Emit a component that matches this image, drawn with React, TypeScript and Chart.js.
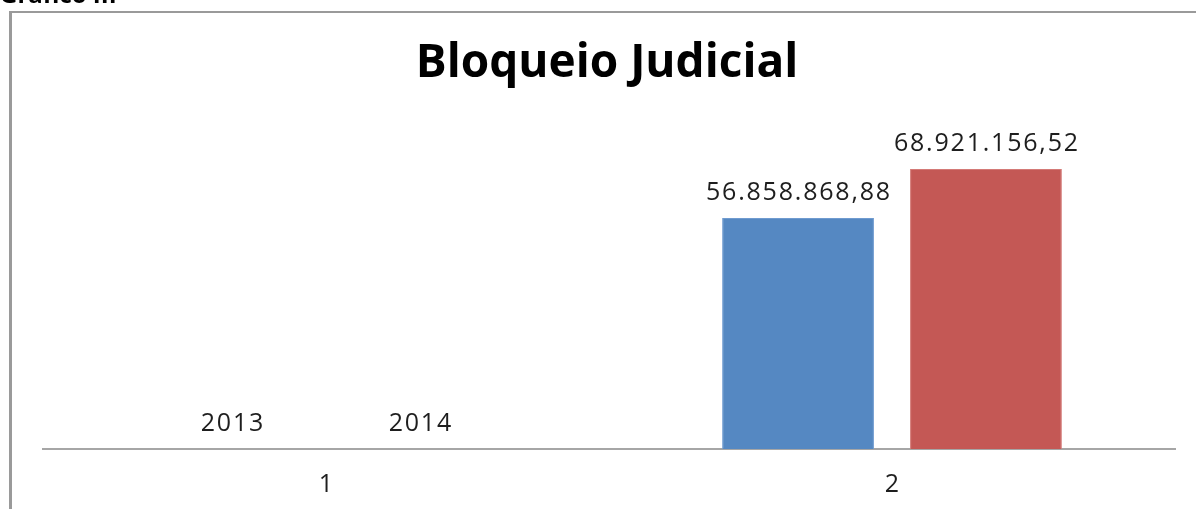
import React, { useEffect, useRef } from "react";
import { Chart, registerables } from "chart.js";

Chart.register(...registerables);

const categories = ["1", "2"];
const serie1Values = [2013, 56858868.88];
const serie2Values = [2014, 68921156.52];
const seriesNames = ["Série1", "Série2"];
const chartTitle = "Bloqueio Judicial";
const captionText = "Gráfico III";

const LABEL_FONT = '25px "Open Sans"';
const LABEL_SPACING = 1.8;

function fmt(v: number): string {
  if (Number.isInteger(v)) return String(v);
  const [i, d] = v.toFixed(2).split(".");
  return i.replace(/\B(?=(\d{3})+(?!\d))/g, ".") + "," + d;
}

const decorPlugin = {
  id: "decor",
  beforeDraw(chart: any) {
    const ctx = chart.ctx;
    ctx.save();
    ctx.fillStyle = "#ffffff";
    ctx.fillRect(0, 0, chart.width, chart.height);
    ctx.fillStyle = "#9a9a9a";
    ctx.fillRect(9, 11, 3, chart.height - 11);
    ctx.fillRect(9, 11, chart.width - 9, 2);
    ctx.fillStyle = "#000000";
    ctx.font = 'bold 24px "Open Sans"';
    ctx.textAlign = "left";
    ctx.textBaseline = "alphabetic";
    ctx.fillText(captionText, 0, 3);
    ctx.font = 'bold 46px "Open Sans"';
    ctx.textAlign = "center";
    ctx.fillText(chartTitle, 607, 77);
    ctx.restore();
  },
};

const labelPlugin = {
  id: "barLabels",
  afterDatasetsDraw(chart: any) {
    const ctx = chart.ctx;
    ctx.save();
    ctx.fillStyle = "#1e1e1e";
    ctx.font = LABEL_FONT;
    (ctx as any).letterSpacing = LABEL_SPACING + "px";
    ctx.textAlign = "center";
    ctx.textBaseline = "alphabetic";
    chart.data.datasets.forEach((ds: any, di: number) => {
      const meta = chart.getDatasetMeta(di);
      meta.data.forEach((el: any, i: number) => {
        ctx.fillText(fmt(ds.data[i]), el.x + LABEL_SPACING / 2, el.y - 18);
      });
    });
    ctx.restore();
  },
};

export default function App() {
  const ref = useRef<HTMLCanvasElement | null>(null);
  useEffect(() => {
    if (!ref.current) return;
    const chart = new Chart(ref.current, {
      type: "bar",
      data: {
        labels: categories,
        datasets: [
          {
            label: seriesNames[0],
            data: serie1Values,
            backgroundColor: "#5588c2",
            borderColor: "#6f9bd0",
            borderWidth: 1,
            categoryPercentage: 0.664,
            barPercentage: 0.808,
          },
          {
            label: seriesNames[1],
            data: serie2Values,
            backgroundColor: "#c45855",
            borderColor: "#d47a77",
            borderWidth: 1,
            categoryPercentage: 0.664,
            barPercentage: 0.808,
          },
        ],
      },
      options: {
        animation: false,
        responsive: false,
        layout: { padding: { top: 124, left: 43, right: 21, bottom: 0 } },
        plugins: {
          legend: { display: false },
          title: { display: false },
          tooltip: { enabled: false },
        },
        scales: {
          y: { display: false, min: 0, max: 80000000 },
          x: {
            grid: { display: false, drawTicks: false },
            border: { display: true, color: "#a6a6a6", width: 2 },
            ticks: {
              color: "#1e1e1e",
              font: { family: '"Open Sans"', size: 25 },
              padding: 21,
            },
            afterFit: (scale: any) => {
              scale.height = 60;
            },
          },
        },
      },
      plugins: [decorPlugin, labelPlugin],
    } as any);
    return () => chart.destroy();
  }, []);
  return (
    <div style={{ position: "absolute", left: 0, top: 0, width: 1196, height: 509 }}>
      <canvas ref={ref} width={1196} height={509} style={{ display: "block" }} />
    </div>
  );
}
